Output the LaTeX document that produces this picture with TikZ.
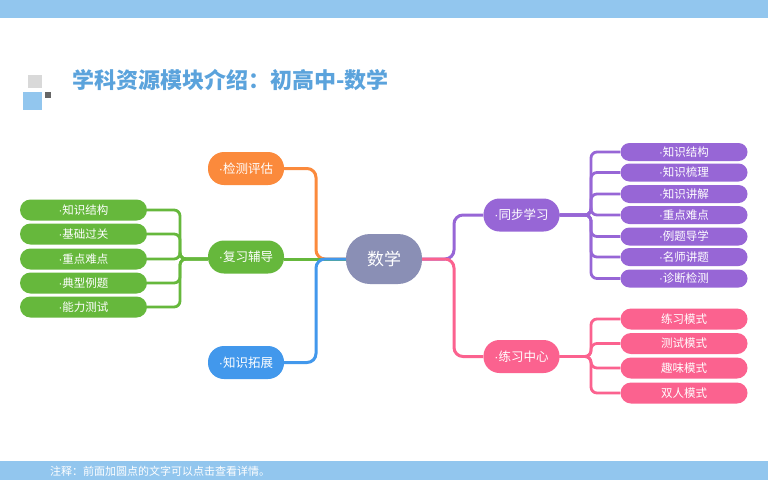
\documentclass[tikz,border=0pt]{standalone}
\usepackage{fontspec}
\setmainfont{Noto Sans CJK SC}
\newfontfamily\dotfont{Liberation Sans}
\newcommand{\lead}{{\dotfont ·}}
\newcommand{\widecolon}{\char"FF1A\relax}
\definecolor{barblue}{HTML}{92C6EE}
\definecolor{titleblue}{HTML}{5BA3DC}
\definecolor{cgreen}{HTML}{66B83C}
\definecolor{corange}{HTML}{FB8A3C}
\definecolor{cblue}{HTML}{4298EC}
\definecolor{cpurple}{HTML}{9766D6}
\definecolor{cpink}{HTML}{FB628F}
\definecolor{croot}{HTML}{8A8FB5}
\tikzset{
  x=1pt,y=-1pt,
  hubnode/.style={rectangle,rounded corners=16pt,minimum width=76pt,minimum height=33pt,inner sep=0pt,text=white,font=\fontsize{12.5}{15}\selectfont},
  leafnode/.style={rectangle,rounded corners=#1,minimum width=127pt,minimum height=2*#1,inner sep=0pt,text=white,font=\fontsize{11.5}{14}\selectfont},
  conn/.style={line width=3pt,rounded corners=9pt},
  twig/.style={line width=2.8pt,rounded corners=6pt},
}
\begin{document}
\begin{tikzpicture}
\useasboundingbox (0,0) rectangle (768,480);
\fill[white] (0,0) rectangle (768,480);
\fill[barblue] (0,0) rectangle (768,18);
\fill[barblue] (0,461) rectangle (768,480);
% title decoration
\fill[black!15] (28,75) rectangle (42,88);
\fill[barblue] (23,92) rectangle (42,110);
\fill[black!60] (45,92) rectangle (51,98);
\node[anchor=west,inner sep=0pt,text=titleblue,font=\fontsize{22}{26}\selectfont\bfseries] (title) at (72,80) {学科资源模块介绍\widecolon 初高中-数学};
\node[anchor=west,inner sep=0pt,text=white,font=\fontsize{11}{13}\selectfont] (note) at (50,471.5) {注释\widecolon 前面加圆点的文字可以点击查看详情。};
% junctions
\coordinate (jL) at (316,259);
\coordinate (jR) at (454,259);
\coordinate (jG) at (180,259);
\coordinate (jP) at (591,215);
\coordinate (jK) at (591,356.5);
% hubs
\node[hubnode,fill=croot,minimum height=50pt,rounded corners=24pt,font=\fontsize{17}{20}\selectfont] (root) at (384,259) {数学};
\node[hubnode,fill=corange] (jiance) at (246,168.5) {\lead 检测评估};
\node[hubnode,fill=cgreen] (fuxi) at (246,257) {\lead 复习辅导};
\node[hubnode,fill=cblue] (tuozhan) at (246,362.5) {\lead 知识拓展};
\node[hubnode,fill=cpurple] (tongbu) at (521.5,215) {\lead 同步学习};
\node[hubnode,fill=cpink] (lianxi) at (521.5,356.5) {\lead 练习中心};
% green leaves
\node[leafnode=10.5pt,fill=cgreen] (g1) at (83.5,210) {\lead 知识结构};
\node[leafnode=10.5pt,fill=cgreen] (g2) at (83.5,234) {\lead 基础过关};
\node[leafnode=10.5pt,fill=cgreen] (g3) at (83.5,259) {\lead 重点难点};
\node[leafnode=10.5pt,fill=cgreen] (g4) at (83.5,283) {\lead 典型例题};
\node[leafnode=10.5pt,fill=cgreen] (g5) at (83.5,307) {\lead 能力测试};
% purple leaves
\node[leafnode=9pt,fill=cpurple] (p1) at (684,152) {\lead 知识结构};
\node[leafnode=9pt,fill=cpurple] (p2) at (684,172.5) {\lead 知识梳理};
\node[leafnode=9pt,fill=cpurple] (p3) at (684,194) {\lead 知识讲解};
\node[leafnode=9pt,fill=cpurple] (p4) at (684,215) {\lead 重点难点};
\node[leafnode=9pt,fill=cpurple] (p5) at (684,236.5) {\lead 例题导学};
\node[leafnode=9pt,fill=cpurple] (p6) at (684,257) {\lead 名师讲题};
\node[leafnode=9pt,fill=cpurple] (p7) at (684,278.5) {\lead 诊断检测};
% pink leaves
\node[leafnode=10.5pt,fill=cpink] (k1) at (684,319) {练习模式};
\node[leafnode=10.5pt,fill=cpink] (k2) at (684,343.5) {测试模式};
\node[leafnode=10.5pt,fill=cpink] (k3) at (684,368) {趣味模式};
\node[leafnode=10.5pt,fill=cpink] (k4) at (684,393) {双人模式};
% main connectors
\draw[conn,corange] (jiance.east) -| (jL) -- (root.west);
\draw[conn,cgreen] (fuxi.east |- jL) -- (root.west);
\draw[conn,cblue] (tuozhan.east) -| (jL) -- (root.west);
\draw[conn,cpurple] (tongbu.west) -| (jR) -- (root.east);
\draw[conn,cpink] (lianxi.west) -| (jR) -- (root.east);
\foreach \n in {g1,g2,g3,g4,g5}{\draw[twig,cgreen] (\n.east) -| (jG) -- (fuxi.west |- jG);}
\foreach \n in {p1,p2,p3,p4,p5,p6,p7}{\draw[twig,cpurple] (\n.west) -| (jP) -- (tongbu.east);}
\foreach \n in {k1,k2,k3,k4}{\draw[twig,cpink] (\n.west) -| (jK) -- (lianxi.east);}
\end{tikzpicture}
\end{document}
